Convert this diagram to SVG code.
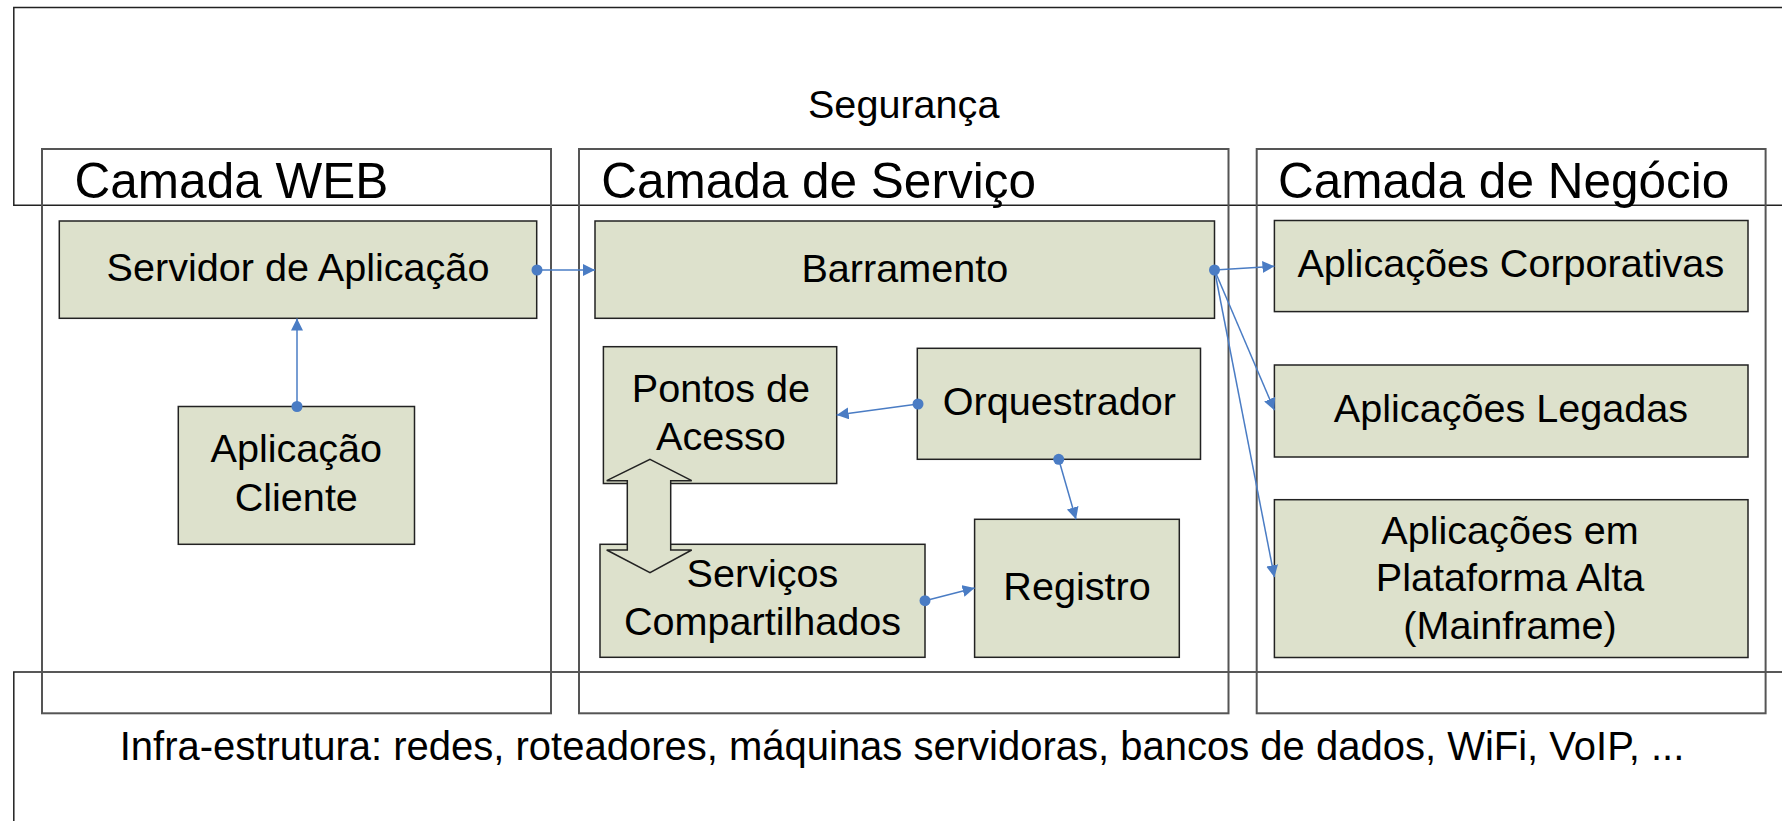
<svg xmlns="http://www.w3.org/2000/svg" width="1782" height="821" viewBox="0 0 1782 821">
<style>
.bg{fill:#ffffff}
.frame{fill:none;stroke:#222222;stroke-width:1.5}
.layer{fill:none;stroke:#555555;stroke-width:2}
.box{fill:#DDE1CC;stroke:#222222;stroke-width:1.5}
.t{font-family:"Liberation Sans",Arial,sans-serif;font-size:39.6px;fill:#000000;text-anchor:middle}
.title{font-family:"Liberation Sans",Arial,sans-serif;font-size:49.5px;fill:#000000}
.conn{fill:none;stroke:#4A7CC4;stroke-width:1.5}
.dot{fill:#4A7CC4}
</style>
<defs>
<marker id="arr" markerUnits="userSpaceOnUse" markerWidth="14" markerHeight="14" refX="12" refY="6" orient="auto">
<path d="M0,0 L12,6 L0,12 Z" fill="#4A7CC4"/>
</marker>
</defs>
<rect class="bg" x="0" y="0" width="1782" height="821"/>

<g id="seguranca">
<path class="frame" d="M1790,7.5 H13.8 V205.3 H1790"/>
<text class="t" x="903.7" y="118.3">Segurança</text>
</g>

<g id="infraestrutura">
<path class="frame" d="M1790,672 H13.8 V830"/>
<text class="t" x="902" y="760" style="font-size:40px">Infra-estrutura: redes, roteadores, máquinas servidoras, bancos de dados, WiFi, VoIP, ...</text>
</g>

<g id="camada-web">
<rect class="layer" x="42" y="149" width="509" height="564.3"/>
<text class="title" x="74.6" y="198.3">Camada WEB</text>
</g>

<g id="camada-servico">
<rect class="layer" x="579" y="149" width="649.5" height="564.3"/>
<text class="title" x="601.2" y="198.3">Camada de Serviço</text>
</g>

<g id="camada-negocio">
<rect class="layer" x="1256.7" y="149" width="508.9" height="564.3"/>
<text class="title" x="1278" y="198.4">Camada de Negócio</text>
</g>

<g id="servidor-aplicacao">
<rect class="box" x="59.3" y="221" width="477.4" height="97.3"/>
<text class="t" x="298" y="280.7">Servidor de Aplicação</text>
</g>

<g id="aplicacao-cliente">
<rect class="box" x="178.3" y="406.5" width="236.2" height="137.8"/>
<text class="t" x="296.3" y="462.3">Aplicação</text>
<text class="t" x="296.3" y="510.7">Cliente</text>
</g>

<g id="barramento">
<rect class="box" x="595" y="221" width="619.5" height="97.3"/>
<text class="t" x="904.8" y="281.7">Barramento</text>
</g>

<g id="pontos-acesso">
<rect class="box" x="603.4" y="346.7" width="233.3" height="136.8"/>
<text class="t" x="720.9" y="401.7">Pontos de</text>
<text class="t" x="720.9" y="450">Acesso</text>
</g>

<g id="orquestrador">
<rect class="box" x="917.3" y="348.3" width="283.2" height="111"/>
<text class="t" x="1059.3" y="415">Orquestrador</text>
</g>

<g id="servicos-compartilhados">
<rect class="box" x="600" y="544.3" width="325" height="113"/>
<text class="t" x="762.5" y="586.7">Serviços</text>
<text class="t" x="762.5" y="635">Compartilhados</text>
</g>

<g id="registro">
<rect class="box" x="974.6" y="519.3" width="204.7" height="138"/>
<text class="t" x="1077" y="600">Registro</text>
</g>

<g id="aplicacoes-corporativas">
<rect class="box" x="1274.4" y="220.5" width="473.6" height="91.1"/>
<text class="t" x="1510.8" y="277">Aplicações Corporativas</text>
</g>

<g id="aplicacoes-legadas">
<rect class="box" x="1274.4" y="365" width="473.6" height="92"/>
<text class="t" x="1511" y="421.7">Aplicações Legadas</text>
</g>

<g id="aplicacoes-mainframe">
<rect class="box" x="1274.4" y="499.7" width="473.6" height="157.8"/>
<text class="t" x="1510" y="543.8">Aplicações em</text>
<text class="t" x="1510" y="590.7">Plataforma Alta</text>
<text class="t" x="1510" y="638.6">(Mainframe)</text>
</g>

<g id="connectors">
<path class="box" d="M650,459.3 L691.7,480.7 L670.7,480.7 L670.7,550 L691.7,550 L650,572.7 L606.7,550 L627.3,550 L627.3,480.7 L606.7,480.7 Z"/>
<line class="conn" x1="537" y1="270" x2="595" y2="270" marker-end="url(#arr)"/>
<circle class="dot" cx="537" cy="270" r="5.5"/>
<line class="conn" x1="297" y1="406.5" x2="297" y2="318.5" marker-end="url(#arr)"/>
<circle class="dot" cx="297" cy="406.5" r="5.5"/>
<line class="conn" x1="1214.5" y1="270" x2="1274.4" y2="266.3" marker-end="url(#arr)"/>
<line class="conn" x1="1214.5" y1="270" x2="1274.4" y2="410.2" marker-end="url(#arr)"/>
<line class="conn" x1="1214.5" y1="270" x2="1274.4" y2="577.2" marker-end="url(#arr)"/>
<circle class="dot" cx="1214.5" cy="270" r="5.5"/>
<line class="conn" x1="918" y1="404" x2="836.7" y2="415" marker-end="url(#arr)"/>
<circle class="dot" cx="918" cy="404" r="5.5"/>
<line class="conn" x1="1058.7" y1="459.3" x2="1076" y2="519.3" marker-end="url(#arr)"/>
<circle class="dot" cx="1058.7" cy="459.3" r="5.5"/>
<line class="conn" x1="925" y1="600.7" x2="974.6" y2="588" marker-end="url(#arr)"/>
<circle class="dot" cx="925" cy="600.7" r="5.5"/>
</g>
</svg>
